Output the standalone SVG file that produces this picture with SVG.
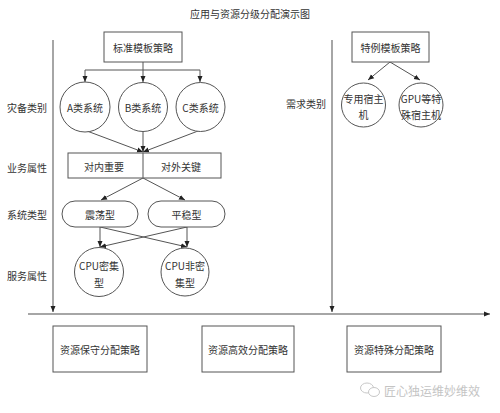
<svg xmlns="http://www.w3.org/2000/svg" width="500" height="413" viewBox="0 0 500 413">
<style>
text{font-family:"Noto Sans CJK SC","Liberation Sans",sans-serif;font-size:10px;fill:#333;text-anchor:middle;dominant-baseline:central}
.n{fill:#fff;stroke:#555;stroke-width:1}
.c{stroke:#555;stroke-width:1;fill:none}
.ax{stroke:#888;stroke-width:1.5;fill:none}
.wm{fill:#c4c4c4;font-size:12px;text-anchor:start}
</style>
<defs>
<marker id="ar" markerWidth="6" markerHeight="6" refX="6" refY="3" orient="auto" markerUnits="userSpaceOnUse"><path d="M0,0.5 L6,3 L0,5.5 z" fill="#222"/></marker>
</defs>
<rect width="500" height="413" fill="#fff"/>
<text x="250" y="13">应用与资源分级分配演示图</text>
<g id="labels">
<text x="27" y="107">灾备类别</text>
<text x="27" y="167">业务属性</text>
<text x="27" y="214">系统类型</text>
<text x="27" y="275">服务属性</text>
<text x="306" y="103">需求类别</text>
</g>
<g id="connectors">
<path class="ax" d="M53,40 V312" marker-end="url(#ar)"/>
<path class="ax" d="M332,40 V312" marker-end="url(#ar)"/>
<path class="ax" d="M28,314 H490" marker-end="url(#ar)"/>
<path class="c" d="M143,62 V70 M85,70 H200"/>
<path class="c" d="M85,70 V82" marker-end="url(#ar)"/>
<path class="c" d="M143,70 V82" marker-end="url(#ar)"/>
<path class="c" d="M200,70 V82" marker-end="url(#ar)"/>
<path class="c" d="M87,131 L143,152" marker-end="url(#ar)"/>
<path class="c" d="M143,132 V152" marker-end="url(#ar)"/>
<path class="c" d="M198,131 L143,152" marker-end="url(#ar)"/>
<path class="c" d="M143,178 L101,200" marker-end="url(#ar)"/>
<path class="c" d="M143,178 L185,200" marker-end="url(#ar)"/>
<path class="c" d="M100,227 V247" marker-end="url(#ar)"/>
<path class="c" d="M187,227 V247" marker-end="url(#ar)"/>
<path class="c" d="M100,227 L187,247" marker-end="url(#ar)"/>
<path class="c" d="M187,227 L100,247" marker-end="url(#ar)"/>
<path class="c" d="M390,62 L368,80" marker-end="url(#ar)"/>
<path class="c" d="M390,62 L420,80" marker-end="url(#ar)"/>
</g>
<g id="std"><rect class="n" x="104" y="32" width="78" height="30"/><text x="143" y="47">标准模板策略</text></g>
<g id="a"><circle class="n" cx="85" cy="107" r="25"/><text x="85" y="107">A类系统</text></g>
<g id="b"><circle class="n" cx="143" cy="107" r="24.5"/><text x="143" y="107">B类系统</text></g>
<g id="cc"><circle class="n" cx="200.5" cy="107" r="24.5"/><text x="200.5" y="107">C类系统</text></g>
<g id="biz"><rect class="n" x="68" y="153" width="153" height="25"/><path class="c" d="M143,153 V178"/><text x="104" y="166">对内重要</text><text x="181" y="166">对外关键</text></g>
<g id="zd"><rect class="n" x="62" y="201" width="76" height="26" rx="13"/><text x="100" y="214">震荡型</text></g>
<g id="pw"><rect class="n" x="148" y="201" width="77" height="26" rx="13"/><text x="186.5" y="214">平稳型</text></g>
<g id="cpu1"><circle class="n" cx="99" cy="272" r="24.5"/><text x="99" y="265">CPU密集</text><text x="99" y="282">型</text></g>
<g id="cpu2"><circle class="n" cx="185" cy="272" r="24"/><text x="185" y="265">CPU非密</text><text x="185" y="282">集型</text></g>
<g id="spec"><rect class="n" x="352" y="32" width="77" height="30"/><text x="390.5" y="47">特例模板策略</text></g>
<g id="ded"><circle class="n" cx="363.5" cy="105" r="22"/><text x="363.5" y="98">专用宿主</text><text x="363.5" y="114">机</text></g>
<g id="gpu"><circle class="n" cx="421" cy="105" r="22"/><text x="421" y="98">GPU等特</text><text x="421" y="114">殊宿主机</text></g>
<g id="r1"><rect class="n" x="53" y="326" width="94" height="46"/><text x="100" y="349">资源保守分配策略</text></g>
<g id="r2"><rect class="n" x="202" y="326" width="92" height="46"/><text x="248" y="349">资源高效分配策略</text></g>
<g id="r3"><rect class="n" x="347" y="326" width="94" height="46"/><text x="394" y="349">资源特殊分配策略</text></g>
<g id="wm">
<ellipse cx="367" cy="388" rx="6.5" ry="5" fill="none" stroke="#c8c8c8" stroke-width="1"/>
<ellipse cx="374" cy="392" rx="5.5" ry="4.5" fill="#fff" stroke="#c8c8c8" stroke-width="1"/>
<text class="wm" x="384" y="390">匠心独运维妙维效</text>
</g>
</svg>
